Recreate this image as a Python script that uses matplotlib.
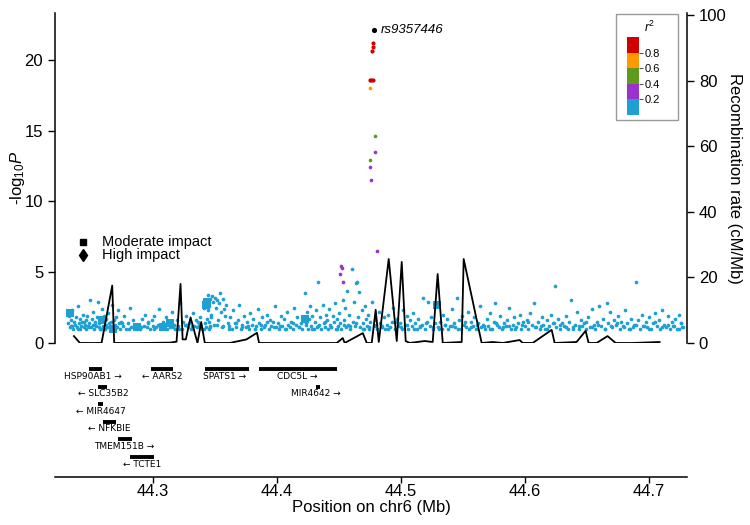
import matplotlib
matplotlib.use('Agg')
import matplotlib.pyplot as plt
from matplotlib.patches import Rectangle

plt.rcParams['font.family'] = ['Liberation Sans', 'DejaVu Sans']
plt.rcParams['mathtext.fontset'] = 'custom'
plt.rcParams['mathtext.rm'] = 'Liberation Sans'
plt.rcParams['mathtext.it'] = 'Liberation Sans:italic'

#%% DATA
# blue SNPs (r2 < 0.2), position in Mb and -log10 P
snp_pos = [
    44.2316, 44.2323, 44.2330, 44.2336, 44.2345, 44.2351, 44.2358, 44.2364, 44.2372, 44.2379,
    44.2387, 44.2393, 44.2401, 44.2408, 44.2414, 44.2421, 44.2429, 44.2436, 44.2442, 44.2450,
    44.2457, 44.2463, 44.2471, 44.2478, 44.2484, 44.2492, 44.2499, 44.2505, 44.2513, 44.2520,
    44.2527, 44.2533, 44.2541, 44.2548, 44.2554, 44.2562, 44.2569, 44.2575, 44.2583, 44.2590,
    44.2597, 44.2603, 44.2611, 44.2618, 44.2625, 44.2632, 44.2640, 44.2646, 44.2653, 44.2661,
    44.2668, 44.2675, 44.2682, 44.2689, 44.2697, 44.2704, 44.2711, 44.2719, 44.2726, 44.2733,
    44.2741, 44.2755, 44.2768, 44.2783, 44.2796, 44.2812, 44.2827, 44.2841, 44.2858, 44.2873,
    44.2886, 44.2898, 44.2911, 44.2925, 44.2937, 44.2950, 44.2962, 44.2976, 44.2989, 44.3001,
    44.3013, 44.3027, 44.3040, 44.3052, 44.3066, 44.3078, 44.3091, 44.3104, 44.3117, 44.3129,
    44.3142, 44.3155, 44.3168, 44.3180, 44.3193, 44.3206, 44.3219, 44.3231, 44.3244, 44.3257,
    44.3270, 44.3282, 44.3295, 44.3308, 44.3321, 44.3333, 44.3346, 44.3359, 44.3372, 44.3384,
    44.3397, 44.3409, 44.3418, 44.3425, 44.3433, 44.3441, 44.3449, 44.3456, 44.3464, 44.3471,
    44.3445, 44.3452, 44.3460, 44.3468, 44.3477, 44.3485, 44.3493, 44.3502, 44.3510, 44.3518,
    44.3526, 44.3535, 44.3543, 44.3551, 44.3560, 44.3568, 44.3577, 44.3586, 44.3594, 44.3603,
    44.3612, 44.3624, 44.3637, 44.3649, 44.3661, 44.3673, 44.3686, 44.3698, 44.3711, 44.3723,
    44.3735, 44.3748, 44.3760, 44.3772, 44.3785, 44.3797, 44.3809, 44.3822, 44.3834, 44.3846,
    44.3859, 44.3871, 44.3883, 44.3896, 44.3908, 44.3920, 44.3933, 44.3945, 44.3957, 44.3970,
    44.3982, 44.3994, 44.4007, 44.4019, 44.4031, 44.4044, 44.4056, 44.4068, 44.4081, 44.4093,
    44.4105, 44.4118, 44.4130, 44.4142, 44.4155, 44.4167, 44.4179, 44.4192, 44.4204, 44.4216,
    44.4228, 44.4235, 44.4243, 44.4252, 44.4261, 44.4270, 44.4279, 44.4288, 44.4297, 44.4306,
    44.4315, 44.4324, 44.4333, 44.4342, 44.4351, 44.4360, 44.4369, 44.4378, 44.4387, 44.4396,
    44.4405, 44.4414, 44.4423, 44.4432, 44.4441, 44.4450, 44.4459, 44.4468, 44.4477, 44.4486,
    44.4495, 44.4504, 44.4513, 44.4522, 44.4531, 44.4540, 44.4549, 44.4558, 44.4567, 44.4576,
    44.4585, 44.4594, 44.4603, 44.4612, 44.4621, 44.4630, 44.4639, 44.4648, 44.4657, 44.4666,
    44.4675, 44.4684, 44.4693, 44.4702, 44.4711, 44.4720, 44.4729, 44.4738, 44.4747, 44.4756,
    44.4768, 44.4781, 44.4795, 44.4808, 44.4821, 44.4835, 44.4848, 44.4861, 44.4875, 44.4888,
    44.4901, 44.4915, 44.4928, 44.4941, 44.4955, 44.4968, 44.4981, 44.4995, 44.5008, 44.5021,
    44.5035, 44.5048, 44.5061, 44.5075, 44.5088, 44.5101, 44.5115, 44.5128, 44.5141, 44.5155,
    44.5168, 44.5181, 44.5195, 44.5208, 44.5221, 44.5235, 44.5248, 44.5261, 44.5275, 44.5288,
    44.5301, 44.5315, 44.5329, 44.5343, 44.5357, 44.5371, 44.5385, 44.5399, 44.5413, 44.5427,
    44.5441, 44.5455, 44.5469, 44.5483, 44.5497, 44.5511, 44.5525, 44.5539, 44.5553, 44.5567,
    44.5581, 44.5595, 44.5609, 44.5623, 44.5637, 44.5651, 44.5665, 44.5679, 44.5693, 44.5707,
    44.5721, 44.5735, 44.5749, 44.5763, 44.5777, 44.5791, 44.5805, 44.5819, 44.5833, 44.5847,
    44.5861, 44.5875, 44.5889, 44.5903, 44.5917, 44.5931, 44.5945, 44.5959, 44.5973, 44.5987,
    44.6001, 44.6016, 44.6031, 44.6046, 44.6061, 44.6076, 44.6091, 44.6106, 44.6121, 44.6136,
    44.6151, 44.6166, 44.6181, 44.6196, 44.6211, 44.6226, 44.6241, 44.6256, 44.6271, 44.6286,
    44.6301, 44.6316, 44.6331, 44.6346, 44.6361, 44.6376, 44.6391, 44.6406, 44.6421, 44.6436,
    44.6451, 44.6466, 44.6481, 44.6496, 44.6511, 44.6526, 44.6541, 44.6556, 44.6571, 44.6586,
    44.6601, 44.6616, 44.6631, 44.6646, 44.6661, 44.6676, 44.6691, 44.6706, 44.6721, 44.6736,
    44.6751, 44.6766, 44.6781, 44.6796, 44.6811, 44.6826, 44.6841, 44.6856, 44.6871, 44.6886,
    44.6901, 44.6916, 44.6931, 44.6946, 44.6961, 44.6976, 44.6991, 44.7006, 44.7021, 44.7036,
    44.7051, 44.7066, 44.7081, 44.7096, 44.7111, 44.7126, 44.7141, 44.7156, 44.7171, 44.7186,
    44.7201, 44.7216, 44.7231, 44.7246, 44.7261, 44.7276,
]
snp_logp = [
    1.4, 1.9, 1.1, 1.6, 1.2, 2.3, 1.0, 1.5, 1.3, 1.8,
    1.1, 2.6, 1.4, 1.0, 1.7, 1.2, 1.5, 2.0, 1.1, 1.3,
    1.6, 1.0, 1.9, 1.2, 1.4, 3.0, 1.1, 1.7, 1.3, 2.2,
    1.0, 1.5, 1.2, 1.8, 2.9, 1.1, 1.4, 1.0, 1.6, 2.4,
    1.2, 1.9, 1.0, 1.3, 1.7, 1.1, 2.1, 1.4, 1.0, 1.5,
    2.7, 1.2, 1.0, 1.6, 1.3, 1.8, 1.1, 2.3, 1.4, 1.0,
    1.5, 1.2, 1.9, 1.0, 1.4, 2.5, 1.1, 1.6, 1.3, 1.0,
    1.3, 1.0, 1.7, 1.2, 2.0, 1.1, 1.4, 1.0, 1.6, 1.2,
    1.9, 1.1, 1.3, 2.4, 1.0, 1.5, 1.2, 1.8, 1.0, 1.4,
    1.1, 2.2, 1.3, 1.0, 1.6, 1.2, 2.8, 1.0, 1.5, 1.3,
    1.9, 1.1, 1.4, 1.0, 2.1, 1.2, 1.6, 1.1, 1.3, 1.8,
    1.0, 2.5, 1.4, 1.1, 1.7, 2.3, 1.0, 1.5, 1.2, 2.0,
    3.4, 2.6, 3.1, 1.8, 3.3, 2.9, 1.3, 3.2, 2.5, 3.0,
    1.6, 2.8, 3.5, 2.2, 1.1, 3.1, 2.4, 1.9, 2.7, 1.4,
    1.2, 1.8, 1.0, 2.3, 1.4, 1.1, 1.6, 2.7, 1.0, 1.3,
    1.9, 1.1, 1.5, 1.0, 2.1, 1.3, 1.7, 1.0, 1.2, 2.4,
    1.4, 1.0, 1.8, 1.1, 1.3, 2.0, 1.0, 1.6, 1.2, 1.5,
    2.6, 1.1, 1.4, 1.0, 1.9, 1.2, 1.7, 1.0, 2.2, 1.3,
    1.1, 1.5, 1.0, 2.5, 1.3, 1.8, 1.1, 1.4, 1.0, 1.6,
    3.5, 1.4, 2.2, 1.0, 1.7, 2.6, 1.2, 1.9, 1.0, 1.5,
    2.3, 1.1, 4.3, 1.3, 1.8, 1.0, 2.7, 1.4, 1.1, 2.0,
    1.6, 1.0, 2.4, 1.3, 1.1, 1.9, 1.5, 2.8, 1.0, 1.7,
    1.2, 2.1, 1.4, 1.0, 3.0, 1.6, 2.5, 1.1, 3.7, 1.3,
    2.0, 1.0, 5.2, 1.5, 2.9, 1.2, 4.2, 4.3, 1.8, 3.6,
    1.1, 2.3, 1.4, 1.0, 2.6, 1.7, 1.2, 2.0, 1.0, 1.5,
    2.9, 1.2, 1.6, 1.0, 2.2, 1.4, 1.1, 1.8, 1.0, 1.3,
    2.0, 1.1, 1.5, 2.5, 1.0, 1.7, 1.2, 1.4, 1.0, 2.3,
    1.3, 1.9, 1.0, 1.6, 1.2, 2.1, 1.4, 1.0, 1.7, 1.1,
    1.3, 3.2, 1.0, 1.5, 2.9, 1.2, 1.8, 1.0, 1.4, 2.7,
    1.1, 1.5, 1.0, 2.0, 1.3, 1.7, 1.0, 1.2, 2.4, 1.4,
    1.1, 3.2, 1.6, 1.0, 1.9, 1.3, 1.1, 2.2, 1.0, 1.5,
    1.2, 1.8, 1.0, 1.4, 2.6, 1.1, 1.3, 1.0, 1.7, 1.2,
    2.1, 1.0, 1.5, 2.8, 1.3, 1.1, 1.9, 1.0, 1.4, 1.2,
    1.6, 2.5, 1.0, 1.3, 1.8, 1.1, 1.4, 2.0, 1.0, 1.5,
    1.2, 1.6, 1.0, 2.1, 1.3, 2.8, 1.1, 1.5, 1.0, 1.8,
    1.3, 1.0, 1.6, 1.2, 2.0, 1.4, 4.0, 1.1, 1.7, 1.0,
    1.4, 1.2, 1.9, 1.0, 1.5, 3.0, 1.1, 1.3, 2.2, 1.0,
    1.6, 1.2, 1.4, 1.0, 1.8, 1.1, 2.4, 1.3, 1.0, 1.5,
    2.6, 1.2, 1.7, 1.0, 2.8, 1.4, 2.2, 1.1, 1.6, 1.3,
    1.9, 1.0, 1.5, 1.2, 2.3, 1.4, 1.0, 1.7, 1.1, 1.3,
    4.3, 1.6, 1.0, 2.0, 1.2, 1.5, 1.1, 1.8, 1.0, 1.4,
    2.1, 1.2, 1.6, 1.0, 2.3, 1.3, 1.1, 1.9, 1.0, 1.5,
    1.2, 1.7, 1.0, 2.0, 1.4, 1.1,
]

# extra blue SNPs filling the dense band near -log10 P = 1
band_pos = [
    44.2342, 44.2398, 44.2446, 44.2488, 44.2536, 44.2579, 44.2615, 44.2657, 44.2693, 44.2748,
    44.2805, 44.2851, 44.2903, 44.2958, 44.3009, 44.3062, 44.3111, 44.3163, 44.3214, 44.3266,
    44.3318, 44.3367, 44.3413, 44.3462, 44.3514, 44.3566, 44.3617, 44.3668, 44.3719, 44.3770,
    44.3821, 44.3873, 44.3924, 44.3976, 44.4027, 44.4078, 44.4129, 44.4181, 44.4232, 44.4283,
    44.4335, 44.4386, 44.4437, 44.4489, 44.4540, 44.4591, 44.4642, 44.4694, 44.4745, 44.4797,
    44.4848, 44.4899, 44.4951, 44.5002, 44.5053, 44.5105, 44.5156, 44.5207, 44.5259, 44.5310,
    44.5361, 44.5413, 44.5464, 44.5515, 44.5567, 44.5618, 44.5669, 44.5721, 44.5772, 44.5823,
    44.5875, 44.5926, 44.5977, 44.6029, 44.6080, 44.6131, 44.6183, 44.6234, 44.6285, 44.6337,
    44.6388, 44.6439, 44.6491, 44.6542, 44.6593, 44.6645, 44.6696, 44.6747, 44.6799, 44.6850,
    44.6901, 44.6953, 44.7004, 44.7055, 44.7107, 44.7158, 44.7209, 44.7244, 44.7261, 44.7270,
]
band_logp = [
    1.2, 1.0, 1.5, 1.1, 1.3, 1.0, 1.6, 1.2, 1.1, 1.4,
    1.0, 1.3, 1.1, 1.5, 1.0, 1.2, 1.4, 1.1, 1.0, 1.3,
    1.2, 1.5, 1.0, 1.1, 1.3, 1.2, 1.0, 1.4, 1.1, 1.2,
    1.0, 1.3, 1.5, 1.1, 1.2, 1.0, 1.4, 1.1, 1.3, 1.0,
    1.2, 1.5, 1.1, 1.0, 1.3, 1.2, 1.4, 1.0, 1.1, 1.3,
    1.2, 1.0, 1.5, 1.1, 1.3, 1.0, 1.2, 1.4, 1.1, 1.0,
    1.3, 1.2, 1.0, 1.5, 1.1, 1.3, 1.2, 1.0, 1.4, 1.1,
    1.2, 1.0, 1.3, 1.5, 1.1, 1.2, 1.0, 1.4, 1.3, 1.1,
    1.0, 1.2, 1.5, 1.1, 1.3, 1.0, 1.2, 1.4, 1.1, 1.0,
    1.3, 1.2, 1.0, 1.5, 1.1, 1.3, 1.2, 1.0, 1.4, 1.1,
]

# moderate impact variants (squares), all r2 < 0.2
sq_pos = [44.2331, 44.2589, 44.2677, 44.2871, 44.3081, 44.3137, 44.3427, 44.3435, 44.4226, 44.5290]
sq_logp = [2.1, 1.6, 1.0, 1.1, 1.1, 1.4, 2.7, 2.9, 1.7, 2.7]

# SNPs in LD with the lead SNP, grouped by r2 bin
red_pos = [44.4774, 44.4776, 44.4772, 44.4754, 44.4764, 44.4773]
red_logp = [21.2, 20.9, 20.6, 18.6, 18.6, 18.6]
orange_pos = [44.4750]
orange_logp = [18.0]
green_pos = [44.4796, 44.4750]
green_logp = [14.6, 12.9]
purple_pos = [44.4792, 44.4754, 44.4764, 44.4806, 44.4516, 44.4524, 44.4508, 44.4532]
purple_logp = [13.5, 12.4, 11.5, 6.5, 5.4, 5.3, 4.9, 4.3]

lead_name = 'rs9357446'
lead_pos = 44.4782
lead_logp = 22.1

# recombination rate (cM/Mb)
recomb_pos = [44.2363, 44.2411, 44.2586, 44.2672, 44.2688, 44.2895, 44.3137, 44.3191, 44.3223,
              44.3240, 44.3266, 44.3304, 44.3360, 44.3390, 44.3419, 44.3621, 44.3645, 44.3756,
              44.3840, 44.3857, 44.4484, 44.4532, 44.4548, 44.4694, 44.4726, 44.4766, 44.4798,
              44.4823, 44.4903, 44.4968, 44.5008, 44.5040, 44.5073, 44.5194, 44.5258, 44.5298,
              44.5339, 44.5492, 44.5508, 44.5653, 44.5742, 44.5823, 44.5960, 44.5984, 44.6065,
              44.6218, 44.6242, 44.6419, 44.6492, 44.6516, 44.6581, 44.6669, 44.6734, 44.6871,
              44.7089]
recomb_rate = [2.1, 0.0, 0.0, 17.5, 0.0, 0.0, 0.1, 0.4, 18.0,
               1.1, 1.1, 7.8, 0.0, 6.4, 0.0, 0.0, 0.2, 1.1,
               3.1, 0.0, 0.0, 1.5, 0.0, 3.0, 0.0, 0.0, 10.1,
               0.3, 25.6, 0.6, 24.7, 0.6, 0.0, 0.6, 0.3, 21.0,
               0.0, 0.3, 25.6, 0.0, 0.3, 0.0, 0.9, 0.0, 0.0,
               4.0, 0.0, 0.3, 3.7, 0.0, 0.0, 2.1, 0.0, 0.0,
               0.3]

# genes
gene_names = ['HSP90AB1', 'AARS2', 'SPATS1', 'CDC5L', 'SLC35B2', 'MIR4642',
              'MIR4647', 'NFKBIE', 'TMEM151B', 'TCTE1']
gene_start = [44.2484, 44.2984, 44.3419, 44.3855, 44.2556, 44.4315,
              44.2556, 44.2597, 44.2718, 44.2815]
gene_end = [44.2589, 44.3161, 44.3774, 44.4484, 44.2629, 44.4347,
            44.2597, 44.2702, 44.2831, 44.3008]
gene_row = [0, 0, 0, 0, 1, 1, 2, 3, 4, 5]
gene_strand = ['+', '-', '+', '+', '-', '+', '-', '-', '+', '-']
gene_label_x = [44.2516, 44.3073, 44.3581, 44.4161, 44.2597, 44.4315,
                44.2581, 44.2645, 44.2766, 44.2911]

r2_bounds = [0.0, 0.2, 0.4, 0.6, 0.8, 1.0]
r2_colors = ['#1ea0d2', '#9b32cc', '#5e9a1c', '#ff9900', '#d00000']

xlim = (44.221, 44.731)

#%% FIGURE
fig = plt.figure(figsize=(7.5, 5.25), dpi=100)
ax = fig.add_axes([0.0733, 0.3467, 0.8427, 0.6286])
ax2 = ax.twinx()
axg = fig.add_axes([0.0733, 0.0914, 0.8427, 0.2324])

# association points
ax.scatter(snp_pos, snp_logp, s=7, color=r2_colors[0], linewidths=0, zorder=3)
ax.scatter(band_pos, band_logp, s=7, color=r2_colors[0], linewidths=0, zorder=3)
ax.scatter(sq_pos, sq_logp, s=26, marker='s', color=r2_colors[0], linewidths=0, zorder=3)
ax.scatter(purple_pos, purple_logp, s=7, color=r2_colors[1], linewidths=0, zorder=3)
ax.scatter(green_pos, green_logp, s=7, color=r2_colors[2], linewidths=0, zorder=3)
ax.scatter(orange_pos, orange_logp, s=7, color=r2_colors[3], linewidths=0, zorder=3)
ax.scatter(red_pos, red_logp, s=9, color=r2_colors[4], linewidths=0, zorder=3)
ax.scatter([lead_pos], [lead_logp], s=14, color='black', linewidths=0, zorder=4)
ax.annotate(lead_name, (lead_pos, lead_logp), xytext=(5, 0), textcoords='offset points',
            fontsize=9.5, style='italic', va='center')

# impact legend
ax.plot([0.044], [0.306], marker='s', ms=5, color='black', transform=ax.transAxes)
ax.plot([0.044], [0.267], marker='d', ms=6, color='black', transform=ax.transAxes)
ax.text(0.074, 0.306, 'Moderate impact', transform=ax.transAxes, fontsize=10.5, va='center')
ax.text(0.074, 0.267, 'High impact', transform=ax.transAxes, fontsize=10.5, va='center')

# recombination
ax2.plot(recomb_pos, recomb_rate, color='black', lw=1.3, zorder=2)

ax.set_xlim(xlim)
ax.set_ylim(0, 23.3)
ax2.set_ylim(0, 100.6)
ax.set_xticks([])
ax.set_yticks([0, 5, 10, 15, 20])
ax2.set_yticks([0, 20, 40, 60, 80, 100])
for a in (ax, ax2):
    for s in ('top', 'bottom'):
        a.spines[s].set_visible(False)
ax.spines['right'].set_visible(False)
ax2.spines['left'].set_visible(False)
ax.spines['left'].set_linewidth(1.1)
ax2.spines['right'].set_linewidth(1.1)
ax.tick_params(axis='y', labelsize=12, length=5, width=1)
ax2.tick_params(axis='y', labelsize=12, length=5, width=1)
ax.set_ylabel(r'-log$_{10}$$\mathit{P}$', fontsize=12, labelpad=-2)
ax2.set_ylabel('Recombination rate (cM/Mb)', fontsize=12, rotation=270,
               ha='center', va='center')
ax2.yaxis.set_label_coords(1.075, 0.5)

# r2 legend
fig.patches.append(Rectangle((0.8213, 0.7714), 0.0827, 0.2019, transform=fig.transFigure,
                             fill=False, edgecolor='#999999', lw=1))
lax = fig.add_axes([0.836, 0.781, 0.016, 0.1486])
for i, c in enumerate(r2_colors):
    lax.bar(0.5, r2_bounds[i + 1] - r2_bounds[i], bottom=r2_bounds[i], width=1, color=c)
lax.set_xlim(0, 1)
lax.set_ylim(0, 1)
lax.set_xticks([])
lax.yaxis.tick_right()
lax.set_yticks([0.2, 0.4, 0.6, 0.8])
lax.set_yticklabels(['0.2', '0.4', '0.6', '0.8'])
lax.tick_params(axis='y', labelsize=8, length=3, width=0.8, pad=1, color='#555555')
for s in lax.spines.values():
    s.set_visible(False)
fig.text(0.8667, 0.9486, r'$r^2$', fontsize=9, ha='center', va='center')

# gene track
for name, st, en, row, strand, lx in zip(gene_names, gene_start, gene_end, gene_row,
                                         gene_strand, gene_label_x):
    axg.plot([st, en], [row, row], color='black', lw=2.8, solid_capstyle='butt')
    label = name + ' \u2192' if strand == '+' else '\u2190 ' + name
    axg.text(lx, row + 0.4, label, ha='center', va='center', fontsize=6.5,
             family='DejaVu Sans')

axg.set_xlim(xlim)
axg.set_ylim(6.14, -0.8)
axg.set_yticks([])
axg.set_xticks([44.3, 44.4, 44.5, 44.6, 44.7])
axg.set_xticklabels(['44.3', '44.4', '44.5', '44.6', '44.7'])
axg.tick_params(axis='x', labelsize=12, length=4, width=1, pad=1)
for s in ('top', 'left', 'right'):
    axg.spines[s].set_visible(False)
axg.spines['bottom'].set_linewidth(1.1)
axg.set_xlabel('Position on chr6 (Mb)', fontsize=12, labelpad=1)

fig.savefig('out.png', dpi=100)
